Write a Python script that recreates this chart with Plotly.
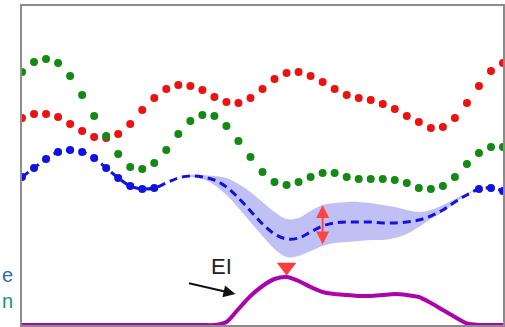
import plotly.graph_objects as go

# Sample positions along the input axis
x_idx = list(range(41))

# Two objective curves sampled at every position
red_vals = [2.07, 2.11, 2.11, 2.08, 2.01, 1.94, 1.88, 1.87, 1.91, 2.01,
            2.15, 2.27, 2.36, 2.40, 2.39, 2.35, 2.28, 2.23, 2.22, 2.27,
            2.36, 2.46, 2.52, 2.53, 2.49, 2.43, 2.36, 2.30, 2.27, 2.25,
            2.21, 2.16, 2.09, 2.03, 1.97, 1.98, 2.07, 2.22, 2.39, 2.54, 2.62]
green_vals = [2.53, 2.63, 2.66, 2.62, 2.49, 2.30, 2.09, 1.89, 1.71, 1.58,
              1.56, 1.62, 1.75, 1.91, 2.04, 2.10, 2.09, 1.99, 1.84, 1.68,
              1.53, 1.43, 1.40, 1.43, 1.48, 1.52, 1.52, 1.48, 1.46, 1.46,
              1.46, 1.45, 1.42, 1.37, 1.36, 1.39, 1.48, 1.61, 1.72, 1.78, 1.78]

# Surrogate mean over the whole axis
mean_vals = [1.48, 1.57, 1.66, 1.73, 1.75, 1.73, 1.67, 1.57, 1.47, 1.39,
             1.36, 1.37, 1.42, 1.47, 1.49, 1.48, 1.45, 1.38, 1.27, 1.14,
             1.01, 0.91, 0.86, 0.87, 0.93, 0.99, 1.02, 1.03, 1.03, 1.03,
             1.02, 1.02, 1.03, 1.05, 1.09, 1.15, 1.23, 1.30, 1.36, 1.37, 1.34]
# Observed points (where the mean is pinned)
observed_idx = [0, 1, 2, 3, 4, 5, 6, 7, 8, 9, 10, 11, 38, 39, 40]

# Uncertainty band over the unobserved stretch
band_idx = list(range(13, 39))
band_upper = [1.47, 1.50, 1.50, 1.49, 1.47, 1.41, 1.33, 1.23, 1.13, 1.06,
              1.07, 1.14, 1.20, 1.22, 1.23, 1.23, 1.22, 1.20, 1.18, 1.15,
              1.13, 1.15, 1.20, 1.26, 1.32, 1.36]
band_lower = [1.47, 1.48, 1.46, 1.40, 1.30, 1.17, 1.03, 0.89, 0.76, 0.68,
              0.69, 0.74, 0.79, 0.82, 0.83, 0.84, 0.85, 0.85, 0.87, 0.91,
              0.98, 1.06, 1.13, 1.22, 1.30, 1.36]

# Expected improvement
ei_vals = [0, 0, 0, 0, 0, 0, 0, 0, 0, 0,
           0, 0, 0, 0, 0, 0, 0, 0.03, 0.16, 0.29,
           0.39, 0.46, 0.48, 0.44, 0.38, 0.33, 0.31, 0.30, 0.29, 0.29,
           0.30, 0.31, 0.30, 0.28, 0.22, 0.15, 0.08, 0.015, 0, 0, 0]

# Position where the spread is marked
spread_at = 25
ei_label = "EI"
side_labels = [("e", "#2c6ab2"), ("n", "#1a9478")]

W, H = 505, 327
left_px, right_px, top_px, bottom_px = 22, 503, 6, 325

fig = go.Figure()

# uncertainty band
fig.add_trace(go.Scatter(x=band_idx, y=band_upper, mode="lines",
                         line=dict(width=0, shape="spline"), hoverinfo="skip",
                         showlegend=False))
fig.add_trace(go.Scatter(x=band_idx, y=band_lower, mode="lines",
                         line=dict(width=0, shape="spline"), fill="tonexty",
                         fillcolor="rgba(150,150,238,0.6)", hoverinfo="skip",
                         showlegend=False))

# objective curves
fig.add_trace(go.Scatter(x=x_idx, y=red_vals, mode="markers",
                         marker=dict(color="#ee1111", size=8), showlegend=False))
fig.add_trace(go.Scatter(x=x_idx, y=green_vals, mode="markers",
                         marker=dict(color="#138a13", size=8), showlegend=False))

# surrogate mean (dashed) and observed points
fig.add_trace(go.Scatter(x=x_idx, y=mean_vals, mode="lines",
                         line=dict(color="#1212e0", width=3, dash="8px,5px",
                                   shape="spline"),
                         showlegend=False))
fig.add_trace(go.Scatter(x=observed_idx, y=[mean_vals[i] for i in observed_idx],
                         mode="markers", marker=dict(color="#1212e0", size=8),
                         showlegend=False))

# expected improvement curve
fig.add_trace(go.Scatter(x=x_idx, y=ei_vals, mode="lines",
                         line=dict(color="#aa05aa", width=4, shape="spline",
                                   smoothing=0.8),
                         showlegend=False))

# marker for the EI maximum
best = max(range(len(ei_vals)), key=lambda i: ei_vals[i])
fig.add_trace(go.Scatter(x=[best], y=[ei_vals[best] + 0.10], mode="markers",
                         marker=dict(symbol="triangle-down", size=17,
                                     color="#ff3b3b"),
                         showlegend=False))

side_text = "<br>".join(
    f"<span style='color:{c}'>{t}</span>" for t, c in side_labels)

k = band_idx.index(spread_at)
annotations = [
    # spread arrow
    dict(x=spread_at, y=band_upper[k], ax=spread_at, ay=band_lower[k],
         xref="x", yref="y", axref="x", ayref="y", text="",
         showarrow=True, arrowhead=2, arrowside="end+start", arrowsize=1.3,
         arrowwidth=2, arrowcolor="#ff4444", standoff=0, startstandoff=0),
    # EI pointer
    dict(x=17.75, y=0.31, ax=-48, ay=-11, xref="x", yref="y", text="",
         showarrow=True, arrowhead=2, arrowsize=1.2, arrowwidth=2,
         arrowcolor="#111111"),
    dict(x=16.6, y=0.59, xref="x", yref="y", text=ei_label, showarrow=False,
         font=dict(family="Liberation Sans, Arial", size=22, color="#222222")),
    # side labels
    dict(x=1 / W, y=1 - 288 / H, xref="paper", yref="paper", text=side_text,
         xanchor="left", yanchor="middle", align="right", showarrow=False,
         borderpad=0,
         font=dict(family="Liberation Sans, Arial", size=20)),
]

y0_val = 0.0
y1_val = (bottom_px - top_px) / 100.0

axis_common = dict(showgrid=False, zeroline=False, showticklabels=False,
                   ticks="", showline=True, mirror=True, linecolor="#8c8c8c",
                   linewidth=2)

fig.update_layout(
    width=W, height=H,
    margin=dict(l=0, r=0, t=0, b=0),
    paper_bgcolor="white", plot_bgcolor="white",
    xaxis=dict(domain=[left_px / W, right_px / W], range=[0, 40], **axis_common),
    yaxis=dict(domain=[1 - bottom_px / H, 1 - top_px / H], range=[y0_val, y1_val],
               **axis_common),
    annotations=annotations,
    showlegend=False,
)

fig.write_html("out.html")
